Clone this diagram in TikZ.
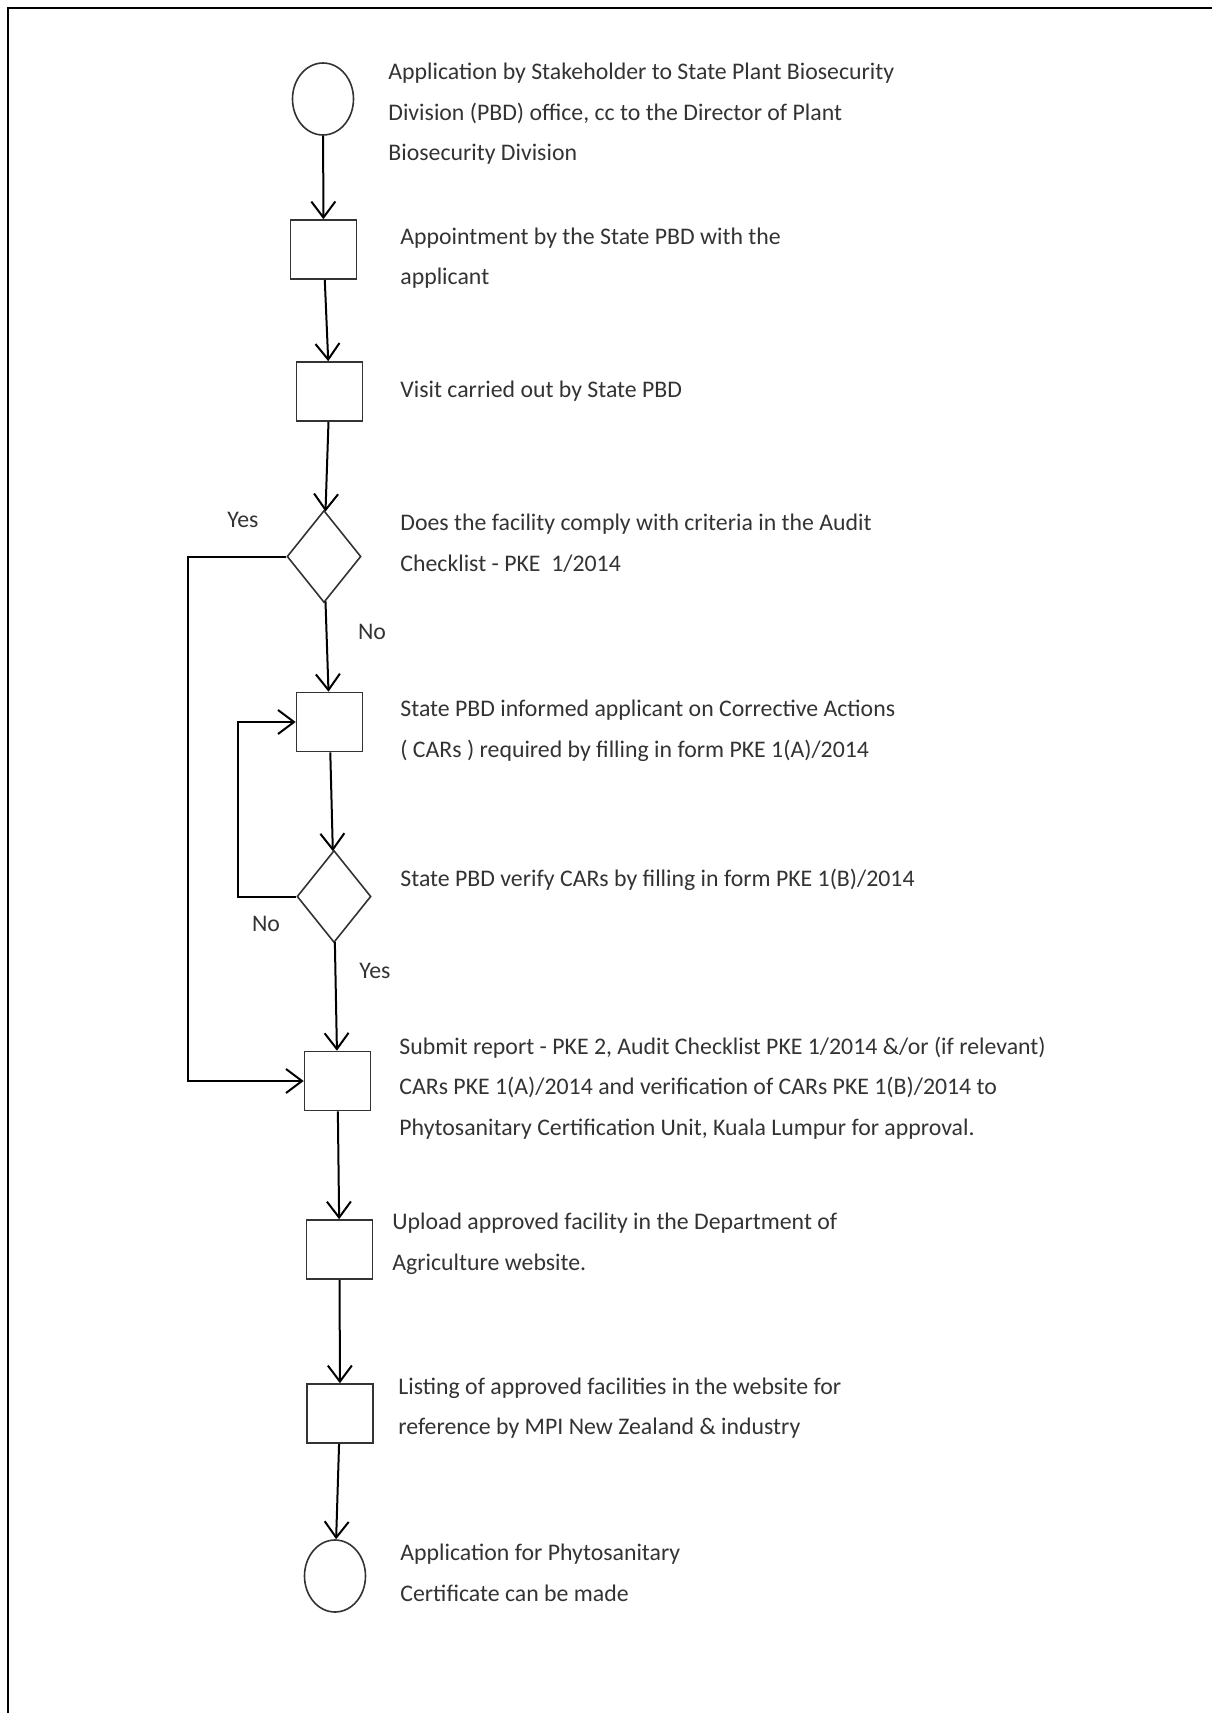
\documentclass[tikz,border=0pt]{standalone}
\usepackage{fontspec}
\setmainfont{Carlito}
\usetikzlibrary{shapes.geometric,arrows.meta}
\definecolor{ink}{HTML}{333333}
\begin{document}
\begin{tikzpicture}[x=0.5pt,y=-0.5pt, >={Straight Barb[length=8pt,width=12pt,line width=1pt]},
      term/.style={ellipse,draw=ink,line width=0.8pt,inner sep=0,minimum width=30.5pt,minimum height=36pt},
      stepbox/.style={rectangle,draw=ink,line width=0.8pt,inner sep=0,minimum width=33pt,minimum height=29.5pt},
      choice/.style={diamond,draw=ink,line width=0.8pt,inner sep=0,minimum width=37pt,minimum height=46pt},
      flow/.style={->,line width=1pt},
      note/.style={anchor=west,align=left,inner sep=0,text=ink,font=\fontsize{11.9pt}{20.25pt}\selectfont},
      tag/.style={inner sep=0,text=ink,font=\fontsize{11.9pt}{13pt}\selectfont} ]
      \useasboundingbox (0,0) rectangle (1212,1713);
      % frame
      \draw[line width=1.4pt] (8,1713) -- (8,8) -- (1212,8);

      % shapes
      \node[term] (start) at (323,99) {};
      \node[stepbox] (apply) at (323.5,249.5) {};
      \node[stepbox] (visit) at (329.5,391.5) {};
      \node[choice] (comply) at (324,556.5) {};
      \node[stepbox] (inform) at (329.5,722) {};
      \node[choice] (verify) at (334,896.5) {};
      \node[stepbox] (submit) at (337.5,1081) {};
      \node[stepbox] (upload) at (339.5,1249.5) {};
      \node[stepbox] (listing) at (340,1413.5) {};
      \node[term] (finish) at (335,1576) {};

      \coordinate (yesx) at (188,0);
      \coordinate (loopx) at (238,0);

      % connectors
      \draw[flow] (start) -- (apply);
      \draw[flow] (apply) -- (visit);
      \draw[flow] (visit) -- (comply);
      \draw[flow] (comply) -- (inform);
      \draw[flow] (inform) -- (verify);
      \draw[flow] (verify) -- (submit);
      \draw[flow] (submit) -- (upload);
      \draw[flow] (upload) -- (listing);
      \draw[flow] (listing) -- (finish);

      \draw[flow] (verify.west) -- (verify.west -| loopx) |- (inform.west);
      \draw[flow] (comply.west) -- (comply.west -| yesx) |- (submit.west);

      % branch labels
      \node[tag] (yes1) at (243,520) {Yes};
      \node[tag] (no1) at (372,632) {No};
      \node[tag] (no2) at (266,924) {No};
      \node[tag] (yes2) at (375,971) {Yes};

      % texts
      \node[note] (t1) at (388,114) {Application by Stakeholder to State Plant Biosecurity\\Division (PBD) office, cc to the Director of Plant\\Biosecurity Division};
      \node[note] (t2) at (400,258) {Appointment by the State PBD with the\\applicant};
      \node[note] (t3) at (400,391) {Visit carried out by State PBD};
      \node[note] (t4) at (400,543) {Does the facility comply with criteria in the Audit\\Checklist - PKE\ \ 1/2014};
      \node[note] (t5) at (400,731) {State PBD informed applicant on Corrective Actions\\( CARs ) required by filling in form PKE 1(A)/2014};
      \node[note] (t6) at (400,880) {State PBD verify CARs by filling in form PKE 1(B)/2014};
      \node[note] (t7) at (399,1088) {Submit report - PKE 2, Audit Checklist PKE 1/2014 \&/or (if relevant)\\CARs PKE 1(A)/2014 and verification of CARs PKE 1(B)/2014 to\\Phytosanitary Certification Unit, Kuala Lumpur for approval.};
      \node[note] (t8) at (392,1244) {Upload approved facility in the Department of\\Agriculture website.};
      \node[note] (t9) at (398,1408) {Listing of approved facilities in the website for\\reference by MPI New Zealand \& industry};
      \node[note] (t10) at (400,1573) {Application for Phytosanitary\\Certificate can be made};
    \end{tikzpicture}
\end{document}
